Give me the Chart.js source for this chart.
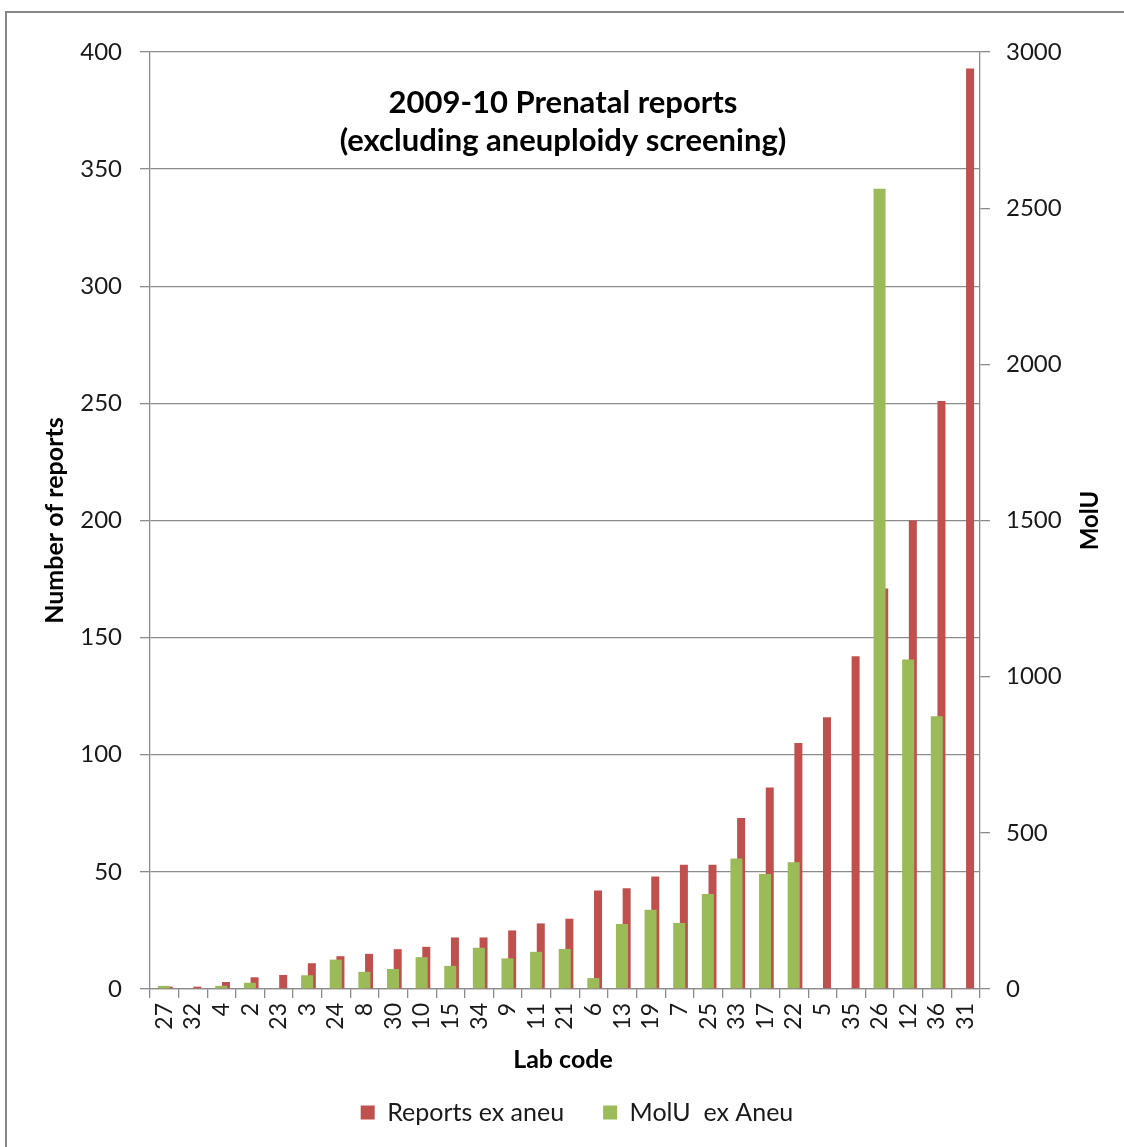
<!DOCTYPE html>
<html>
<head>
<meta charset="utf-8">
<title>2009-10 Prenatal reports</title>
<script src="https://cdn.jsdelivr.net/npm/chart.js@4.4.1/dist/chart.umd.min.js"></script>
<style>
  html, body { margin: 0; padding: 0; background: #ffffff; }
  #wrap { position: relative; width: 1124px; height: 1147px; }
  canvas { display: block; }
</style>
</head>
<body>
<div id="wrap"><canvas id="chart" width="1124" height="1147"></canvas></div>
<script>
// Lab codes, ordered by number of reports
const labCodes = ['27','32','4','2','23','3','24','8','30','10','15','34','9','11','21',
                  '6','13','19','7','25','33','17','22','5','35','26','12','36','31'];

// Number of prenatal reports excluding aneuploidy screening (left axis)
const reportsExAneu = [1, 1, 3, 5, 6, 11, 14, 15, 17, 18, 22, 22, 25, 28, 30,
                       42, 43, 48, 53, 53, 73, 86, 105, 116, 142, 171, 200, 251, 393];

// Molecular units excluding aneuploidy (right axis)
const molUExAneu = [10, 0, 10, 20, 0, 44, 94, 55, 64, 102, 74, 132, 98, 119, 128,
                    35, 208, 254, 211, 304, 418, 368, 406, 0, 0, 2562, 1055, 873, 0];

const chartTitle = ['2009-10 Prenatal reports', '(excluding aneuploidy screening)'];
const seriesNames = ['Reports ex aneu', 'MolU  ex Aneu'];
const axisTitles = { left: 'Number of reports', right: 'MolU', bottom: 'Lab code' };

const FONT = 'Lato, "Open Sans", sans-serif';
const TXT = '#1a1a1a';
const GRID = '#8c8c8c';
const RED = '#C0504D';
const GREEN = '#9BBB59';

// Frame around the chart and the text placed inside / around the plot area
const decorations = {
  id: 'decorations',
  beforeDraw(chart) {
    const ctx = chart.ctx;
    ctx.save();
    ctx.fillStyle = '#ffffff';
    ctx.fillRect(0, 0, chart.width, chart.height);
    ctx.strokeStyle = '#878787';
    ctx.lineWidth = 2;
    ctx.beginPath();
    ctx.moveTo(6, chart.height + 5);
    ctx.lineTo(6, 12);
    ctx.lineTo(chart.width + 5, 12);
    ctx.stroke();
    ctx.restore();
  },
  afterDraw(chart) {
    const ctx = chart.ctx;
    const area = chart.chartArea;
    const cx = (area.left + area.right) / 2;
    const cy = (area.top + area.bottom) / 2;
    ctx.save();
    ctx.fillStyle = '#000000';
    ctx.textAlign = 'center';
    ctx.textBaseline = 'middle';

    // chart title, inside the plot area
    ctx.font = 'bold 31px ' + FONT;
    ctx.fillText(chartTitle[0], cx - 2, 103);
    ctx.fillText(chartTitle[1], cx - 2, 141);

    // x axis title
    ctx.font = 'bold 25px ' + FONT;
    ctx.fillText(axisTitles.bottom, cx - 2, 1060);

    // left axis title
    ctx.save();
    ctx.translate(55, cy);
    ctx.rotate(-Math.PI / 2);
    ctx.fillText(axisTitles.left, 0, 0);
    ctx.restore();

    // right axis title (reads bottom to top)
    ctx.font = 'bold 24px ' + FONT;
    ctx.save();
    ctx.translate(1090, cy);
    ctx.rotate(-Math.PI / 2);
    ctx.fillText(axisTitles.right, 0, 0);
    ctx.restore();

    ctx.restore();
  }
};

new Chart(document.getElementById('chart'), {
  type: 'bar',
  data: {
    labels: labCodes,
    datasets: [
      {
        // drawn in front, centred on the category
        label: seriesNames[1],
        data: molUExAneu,
        yAxisID: 'y1',
        backgroundColor: GREEN,
        borderWidth: 0,
        categoryPercentage: 0.04,
        barPercentage: 21
      },
      {
        // drawn behind, shifted to the right of the category centre
        label: seriesNames[0],
        data: reportsExAneu,
        yAxisID: 'y',
        backgroundColor: RED,
        borderWidth: 0,
        categoryPercentage: 0.615,
        barPercentage: 0.91
      }
    ]
  },
  options: {
    responsive: false,
    animation: false,
    devicePixelRatio: 1,
    layout: { padding: { left: 30, right: 0, top: 52, bottom: 12 } },
    scales: {
      x: {
        offset: true,
        grid: { display: true, drawOnChartArea: false, drawTicks: true, tickLength: 9, color: GRID, lineWidth: 1.3, offset: true },
        border: { display: true, color: GRID, width: 1.3 },
        ticks: {
          autoSkip: false, minRotation: 90, maxRotation: 90, padding: 5,
          color: TXT, font: { family: FONT, size: 23 }
        },
        afterFit(scale) { scale.height = 72; }
      },
      y: {
        position: 'left',
        min: 0, max: 400,
        ticks: { stepSize: 50, padding: 18, color: TXT, font: { family: FONT, size: 24 } },
        grid: { color: GRID, lineWidth: 1.3, tickLength: 10 },
        border: { display: true, color: GRID, width: 1.3 },
        afterFit(scale) { scale.width = 120; }
      },
      y1: {
        position: 'right',
        min: 0, max: 3000,
        ticks: {
          stepSize: 500, padding: 16, color: TXT, font: { family: FONT, size: 24 },
          callback: (value) => String(value)
        },
        grid: { drawOnChartArea: false, color: GRID, lineWidth: 1.3, tickLength: 10 },
        border: { display: true, color: GRID, width: 1.3 },
        afterFit(scale) { scale.width = 144; }
      }
    },
    plugins: {
      legend: {
        position: 'bottom',
        reverse: true,
        labels: {
          boxWidth: 14, boxHeight: 14, padding: 39,
          color: TXT, font: { family: FONT, size: 25 }
        }
      },
      tooltip: { enabled: false }
    }
  },
  plugins: [decorations]
});
</script>
</body>
</html>
